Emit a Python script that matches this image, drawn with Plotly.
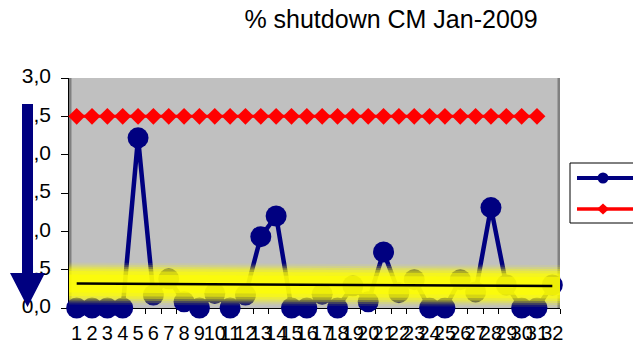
import numpy as np
import plotly.graph_objects as go

# Daily shutdown percentage for CM, January 2009
days = list(range(1, 33))
shutdown_pct = [0, 0, 0, 0, 2.22, 0.17, 0.38, 0.08, 0, 0.19, 0, 0.17, 0.93, 1.2, 0,
                0, 0.18, 0, 0.29, 0.08, 0.73, 0.2, 0.37, 0, 0, 0.37, 0.21, 1.31,
                0.3, 0, 0, 0.3]

# Target limit per day
target_days = list(range(1, 32))
target_pct = [2.5, 2.5, 2.5, 2.5, 2.5, 2.5, 2.5, 2.5, 2.5, 2.5, 2.5, 2.5, 2.5, 2.5,
              2.5, 2.5, 2.5, 2.5, 2.5, 2.5, 2.5, 2.5, 2.5, 2.5, 2.5, 2.5, 2.5, 2.5,
              2.5, 2.5, 2.5]

y_ticks = [0, 0.5, 1.0, 1.5, 2.0, 2.5, 3.0]
y_tick_text = ["0,0", "0,5", "1,0", "1,5", "2,0", "2,5", "3,0"]
x_labels = [str(d) for d in days]

title_text = "% shutdown CM Jan-2009"

W, H = 633, 345
MT, MB = 78, 37
PLOT_L, PLOT_R = 69, 560          # plot area edges in pixels
LABEL_R = 66                      # right edge of the value-label strip
PH = H - MT - MB
FONT = "Liberation Sans, Arial, sans-serif"
NAVY = "#000080"
RED = "#FF0000"


def px(X):
    return X / W


def py(Y):
    return (H - MB - Y) / PH


# Linear trend of the daily values
slope, intercept = np.polyfit(days, shutdown_pct, 1)
trend_x = [days[0], days[-1]]
trend_y = [intercept + slope * x for x in trend_x]
glow_x = [days[0] - 0.5, days[-1] + 0.5]
glow_y = [intercept + slope * x for x in glow_x]

fig = go.Figure()

fig.add_trace(go.Scatter(
    x=days, y=shutdown_pct, mode="lines+markers",
    line=dict(color=NAVY, width=4.5),
    marker=dict(symbol="circle", size=21, color=NAVY),
    cliponaxis=False, showlegend=False, hoverinfo="skip"))

fig.add_trace(go.Scatter(
    x=target_days, y=target_pct, mode="lines+markers",
    line=dict(color=RED, width=3),
    marker=dict(symbol="diamond", size=13, color=RED),
    cliponaxis=False, showlegend=False, hoverinfo="skip"))

# Soft yellow glow behind the trend line
for w, a in [(42, 0.1), (38, 0.18), (34, 0.28), (30, 0.38), (25, 0.5), (18, 0.6)]:
    fig.add_trace(go.Scatter(
        x=glow_x, y=glow_y, mode="lines",
        line=dict(color=f"rgba(255,255,0,{a})", width=w),
        showlegend=False, hoverinfo="skip"))

fig.add_trace(go.Scatter(
    x=trend_x, y=trend_y, mode="lines",
    line=dict(color="black", width=2.5),
    showlegend=False, hoverinfo="skip"))

# Value-axis labels in their own strip, so the arrow can sit on top of them
fig.add_trace(go.Scatter(
    x=[LABEL_R - 15] * len(y_ticks), y=y_ticks, mode="text", text=y_tick_text,
    textposition="middle left", xaxis="x2", yaxis="y",
    textfont=dict(family=FONT, size=21, color="black"),
    cliponaxis=False, showlegend=False, hoverinfo="skip"))

shapes = []
# plot-area background and side walls
shapes.append(dict(type="rect", xref="x", yref="y", x0=0.5, x1=32.5, y0=0, y1=3,
                   fillcolor="#C0C0C0", line=dict(width=0), layer="below"))
for xv in (0.5, 32.5):
    shapes.append(dict(type="line", xref="x", yref="y", x0=xv, x1=xv, y0=0, y1=3,
                       line=dict(color="#808080", width=5), layer="below"))

# big downward arrow on the left
sx0, sx1, sy0 = 22, 33, 104
hx0, hx1, hy, tipx, tipy = 10, 45, 273, 27.5, 307
arrow = (f"M{px(sx0)},{py(sy0)} L{px(sx1)},{py(sy0)} L{px(sx1)},{py(hy)} "
         f"L{px(hx1)},{py(hy)} L{px(tipx)},{py(tipy)} L{px(hx0)},{py(hy)} "
         f"L{px(sx0)},{py(hy)} Z")
shapes.append(dict(type="path", xref="paper", yref="paper", path=arrow,
                   fillcolor=NAVY, line=dict(width=0), layer="above"))

# legend box
shapes.append(dict(type="rect", xref="paper", yref="paper",
                   x0=px(570), x1=px(645), y0=py(223), y1=py(163),
                   fillcolor="white", line=dict(color="black", width=1), layer="above"))
shapes.append(dict(type="line", xref="paper", yref="paper",
                   x0=px(577), x1=px(645), y0=py(178), y1=py(178),
                   line=dict(color=NAVY, width=4), layer="above"))
shapes.append(dict(type="circle", xref="paper", yref="paper",
                   x0=px(597.5), x1=px(608.5), y0=py(183.5), y1=py(172.5),
                   fillcolor=NAVY, line=dict(width=0), layer="above"))
shapes.append(dict(type="line", xref="paper", yref="paper",
                   x0=px(577), x1=px(645), y0=py(209), y1=py(209),
                   line=dict(color=RED, width=3.5), layer="above"))
shapes.append(dict(type="path", xref="paper", yref="paper",
                   path=(f"M{px(597)},{py(209)} L{px(603)},{py(203.5)} "
                         f"L{px(609)},{py(209)} L{px(603)},{py(214.5)} Z"),
                   fillcolor=RED, line=dict(width=0), layer="above"))

fig.update_layout(
    width=W, height=H,
    margin=dict(l=0, r=0, t=MT, b=MB, pad=0, autoexpand=False),
    paper_bgcolor="white", plot_bgcolor="rgba(0,0,0,0)",
    font=dict(family=FONT, color="black"),
    title=dict(text=title_text, x=391 / W, xref="container", xanchor="center",
               y=1 - 19.5 / H, yref="container", yanchor="middle",
               font=dict(family=FONT, size=25, color="black")),
    shapes=shapes,
    showlegend=False,
    xaxis=dict(
        domain=[PLOT_L / W, PLOT_R / W], anchor="y",
        range=[0.5, 32.5], tickmode="array", tickvals=days, ticktext=x_labels,
        tickangle=0, ticks="", showgrid=False, zeroline=False,
        showline=True, linecolor="black", linewidth=1, layer="below traces",
        ticklabelstandoff=7, automargin=False,
        tickfont=dict(family=FONT, size=20, color="black"),
        minor=dict(tickmode="array",
                   tickvals=[d - 0.5 for d in days] + [days[-1] + 0.5],
                   ticks="outside", ticklen=5, tickcolor="black", tickwidth=1,
                   showgrid=False),
    ),
    xaxis2=dict(
        domain=[0, LABEL_R / W], anchor="y", range=[0, LABEL_R],
        visible=False, showgrid=False, zeroline=False,
    ),
    yaxis=dict(
        anchor="x",
        range=[0, 3], tickmode="array", tickvals=y_ticks, showticklabels=False,
        ticks="outside", ticklen=7, tickcolor="black", tickwidth=1,
        showgrid=False, zeroline=False,
        showline=True, linecolor="black", linewidth=1, layer="below traces",
        automargin=False,
    ),
)

fig.write_html("out.html")
